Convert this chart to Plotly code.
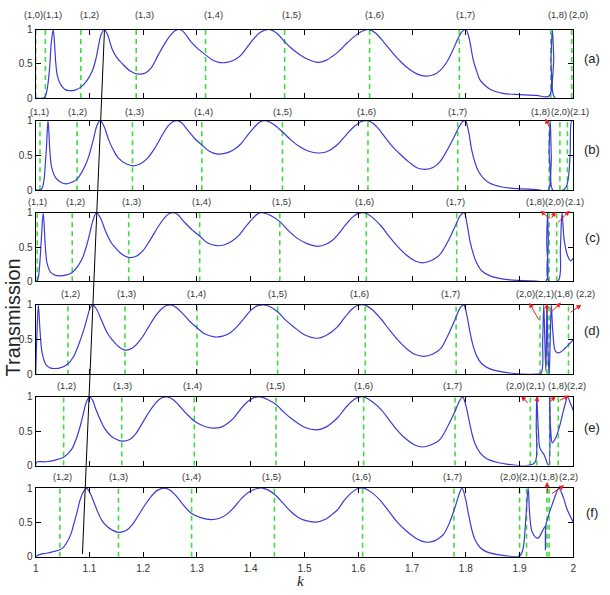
import plotly.graph_objects as go

# ---------------- data ----------------
k_a = [1.000, 1.014, 1.018, 1.022, 1.026, 1.029, 1.0326, 1.035, 1.0375, 1.0405, 1.045, 1.050, 1.056, 1.062, 1.068, 1.074, 1.084, 1.095, 1.105, 1.112, 1.117, 1.122, 1.128, 1.134, 1.142, 1.150, 1.160, 1.175, 1.191, 1.205, 1.215, 1.228, 1.242, 1.252, 1.260, 1.266, 1.273, 1.289, 1.303, 1.316, 1.328, 1.341, 1.355, 1.370, 1.381, 1.395, 1.405, 1.418, 1.433, 1.448, 1.461, 1.475, 1.492, 1.505, 1.525, 1.540, 1.552, 1.562, 1.580, 1.593, 1.606, 1.619, 1.632, 1.648, 1.665, 1.679, 1.695, 1.710, 1.725, 1.740, 1.752, 1.765, 1.776, 1.785, 1.793, 1.800, 1.806, 1.814, 1.820, 1.826, 1.835, 1.845, 1.869, 1.900, 1.931, 1.955, 1.9585, 1.961, 1.9635, 1.966, 2.000]
t_a = [0, 0, 0.03, 0.16, 0.45, 0.8, 1.0, 0.8, 0.5, 0.32, 0.22, 0.16, 0.12, 0.11, 0.11, 0.12, 0.16, 0.25, 0.39, 0.57, 0.77, 0.93, 1.0, 0.92, 0.72, 0.60, 0.51, 0.40, 0.35, 0.37, 0.44, 0.63, 0.82, 0.93, 0.985, 1.0, 0.98, 0.82, 0.71, 0.63, 0.56, 0.52, 0.52, 0.56, 0.62, 0.76, 0.86, 0.96, 1.0, 0.95, 0.84, 0.73, 0.63, 0.57, 0.52, 0.55, 0.61, 0.67, 0.81, 0.90, 0.97, 1.0, 0.95, 0.81, 0.65, 0.53, 0.42, 0.35, 0.32, 0.34, 0.40, 0.53, 0.70, 0.86, 0.97, 1.0, 0.88, 0.55, 0.40, 0.27, 0.19, 0.13, 0.07, 0.05, 0.04, 0.03, 0.6, 1.0, 0.6, 0.0, 0.0]

k_b = [1.000, 1.010, 1.013, 1.016, 1.018, 1.020, 1.023, 1.026, 1.028, 1.030, 1.037, 1.045, 1.056, 1.066, 1.077, 1.093, 1.100, 1.108, 1.114, 1.120, 1.127, 1.136, 1.145, 1.154, 1.168, 1.182, 1.195, 1.208, 1.222, 1.236, 1.246, 1.255, 1.263, 1.270, 1.283, 1.296, 1.309, 1.323, 1.338, 1.352, 1.366, 1.381, 1.395, 1.406, 1.417, 1.427, 1.440, 1.459, 1.475, 1.492, 1.508, 1.525, 1.540, 1.552, 1.562, 1.578, 1.593, 1.605, 1.616, 1.628, 1.642, 1.660, 1.679, 1.695, 1.710, 1.725, 1.740, 1.752, 1.765, 1.778, 1.788, 1.795, 1.799, 1.805, 1.811, 1.817, 1.823, 1.833, 1.845, 1.865, 1.882, 1.931, 1.953, 1.955, 1.957, 1.959, 1.962, 1.983, 1.989, 1.994, 1.997, 2.000]
t_b = [0, 0.01, 0.05, 0.18, 0.38, 0.61, 1.0, 0.61, 0.42, 0.32, 0.18, 0.12, 0.09, 0.11, 0.16, 0.37, 0.52, 0.75, 0.93, 1.0, 0.92, 0.72, 0.57, 0.46, 0.38, 0.35, 0.38, 0.46, 0.61, 0.80, 0.92, 0.985, 1.0, 0.98, 0.86, 0.74, 0.65, 0.56, 0.52, 0.53, 0.57, 0.66, 0.80, 0.90, 0.98, 1.0, 0.96, 0.84, 0.72, 0.62, 0.56, 0.535, 0.55, 0.60, 0.66, 0.80, 0.92, 0.985, 1.0, 0.96, 0.84, 0.66, 0.51, 0.40, 0.32, 0.30, 0.33, 0.41, 0.57, 0.76, 0.92, 0.99, 1.0, 0.85, 0.58, 0.40, 0.28, 0.17, 0.10, 0.05, 0.03, 0.01, 0.0, 0.6, 1.0, 0.5, 0.0, 0.01, 0.1, 0.5, 1.0, 1.0]

k_c = [1.000, 1.003, 1.005, 1.007, 1.009, 1.011, 1.014, 1.017, 1.019, 1.021, 1.028, 1.036, 1.044, 1.056, 1.068, 1.080, 1.087, 1.094, 1.100, 1.107, 1.113, 1.120, 1.130, 1.140, 1.148, 1.161, 1.174, 1.188, 1.200, 1.215, 1.228, 1.240, 1.248, 1.255, 1.263, 1.277, 1.291, 1.305, 1.320, 1.337, 1.350, 1.364, 1.378, 1.391, 1.403, 1.412, 1.421, 1.437, 1.454, 1.470, 1.486, 1.505, 1.525, 1.540, 1.552, 1.562, 1.577, 1.590, 1.600, 1.611, 1.625, 1.642, 1.658, 1.673, 1.690, 1.705, 1.719, 1.735, 1.746, 1.753, 1.766, 1.780, 1.790, 1.797, 1.802, 1.808, 1.814, 1.820, 1.830, 1.845, 1.882, 1.931, 1.949, 1.9505, 1.952, 1.9535, 1.955, 1.972, 1.976, 1.979, 1.983, 1.989, 1.995, 2.000]
t_c = [0, 0.01, 0.06, 0.2, 0.42, 0.68, 1.0, 0.63, 0.40, 0.27, 0.13, 0.09, 0.08, 0.09, 0.13, 0.24, 0.34, 0.50, 0.68, 0.90, 1.0, 0.93, 0.73, 0.57, 0.49, 0.39, 0.345, 0.37, 0.45, 0.63, 0.80, 0.93, 0.985, 1.0, 0.98, 0.86, 0.75, 0.66, 0.56, 0.52, 0.53, 0.58, 0.67, 0.80, 0.91, 0.98, 1.0, 0.96, 0.87, 0.74, 0.63, 0.55, 0.51, 0.54, 0.60, 0.68, 0.83, 0.94, 0.99, 1.0, 0.94, 0.81, 0.65, 0.51, 0.38, 0.30, 0.27, 0.30, 0.35, 0.40, 0.57, 0.80, 0.96, 1.0, 0.85, 0.58, 0.40, 0.27, 0.15, 0.08, 0.02, 0.005, 0.0, 0.6, 1.0, 0.6, 0.0, 0.01, 0.5, 1.0, 0.6, 0.38, 0.3, 0.34]

k_d = [1.000, 1.002, 1.005, 1.008, 1.012, 1.019, 1.028, 1.036, 1.044, 1.060, 1.070, 1.080, 1.089, 1.096, 1.101, 1.106, 1.113, 1.123, 1.133, 1.142, 1.154, 1.166, 1.180, 1.195, 1.209, 1.222, 1.234, 1.243, 1.251, 1.260, 1.274, 1.287, 1.300, 1.315, 1.332, 1.348, 1.362, 1.375, 1.388, 1.400, 1.412, 1.424, 1.437, 1.450, 1.465, 1.479, 1.500, 1.524, 1.540, 1.552, 1.562, 1.575, 1.587, 1.598, 1.611, 1.626, 1.642, 1.658, 1.673, 1.690, 1.705, 1.722, 1.738, 1.753, 1.766, 1.780, 1.789, 1.796, 1.802, 1.808, 1.814, 1.820, 1.830, 1.845, 1.882, 1.931, 1.940, 1.943, 1.945, 1.947, 1.949, 1.951, 1.953, 1.955, 1.957, 1.959, 1.962, 1.967, 1.973, 1.985, 2.000]
t_d = [0, 0.5, 1.0, 0.64, 0.31, 0.14, 0.09, 0.085, 0.09, 0.15, 0.25, 0.43, 0.63, 0.82, 0.95, 1.0, 0.94, 0.77, 0.60, 0.50, 0.40, 0.35, 0.38, 0.50, 0.67, 0.83, 0.94, 0.99, 1.0, 0.97, 0.87, 0.76, 0.67, 0.58, 0.54, 0.55, 0.60, 0.69, 0.81, 0.92, 0.985, 1.0, 0.97, 0.90, 0.78, 0.69, 0.57, 0.52, 0.56, 0.62, 0.69, 0.82, 0.93, 0.99, 1.0, 0.93, 0.80, 0.64, 0.50, 0.37, 0.29, 0.26, 0.29, 0.37, 0.55, 0.79, 0.95, 1.0, 0.85, 0.60, 0.40, 0.27, 0.15, 0.08, 0.02, 0.005, 0.02, 0.5, 1.0, 0.5, 0.05, 1.0, 0.3, 0.0, 0.5, 1.0, 0.6, 0.33, 0.31, 0.38, 0.5]

k_e = [1.000, 1.002, 1.019, 1.037, 1.052, 1.061, 1.068, 1.076, 1.083, 1.089, 1.094, 1.100, 1.106, 1.111, 1.120, 1.129, 1.140, 1.148, 1.161, 1.175, 1.186, 1.197, 1.210, 1.222, 1.233, 1.244, 1.254, 1.265, 1.280, 1.295, 1.311, 1.329, 1.345, 1.358, 1.369, 1.382, 1.394, 1.406, 1.418, 1.432, 1.447, 1.460, 1.473, 1.487, 1.501, 1.522, 1.540, 1.552, 1.562, 1.575, 1.587, 1.598, 1.610, 1.626, 1.642, 1.658, 1.673, 1.690, 1.705, 1.719, 1.735, 1.745, 1.753, 1.767, 1.780, 1.788, 1.794, 1.800, 1.805, 1.811, 1.817, 1.827, 1.839, 1.869, 1.918, 1.929, 1.931, 1.932, 1.935, 1.938, 1.946, 1.954, 1.956, 1.958, 1.961, 1.967, 1.974, 1.980, 1.986, 1.989, 1.995, 2.000]
t_e = [0, 0.05, 0.055, 0.08, 0.12, 0.18, 0.25, 0.40, 0.58, 0.77, 0.92, 1.0, 0.95, 0.84, 0.67, 0.53, 0.43, 0.39, 0.355, 0.38, 0.46, 0.60, 0.77, 0.90, 0.98, 1.0, 0.97, 0.89, 0.76, 0.65, 0.58, 0.545, 0.56, 0.62, 0.70, 0.83, 0.93, 0.99, 1.0, 0.96, 0.89, 0.79, 0.70, 0.62, 0.555, 0.52, 0.56, 0.63, 0.70, 0.83, 0.93, 0.99, 1.0, 0.93, 0.82, 0.66, 0.51, 0.38, 0.30, 0.27, 0.30, 0.34, 0.39, 0.58, 0.79, 0.94, 1.0, 0.88, 0.70, 0.48, 0.32, 0.18, 0.10, 0.03, 0.005, 0.05, 0.6, 1.0, 0.5, 0.25, 0.15, 0.0, 1.0, 0.5, 0.33, 0.40, 0.56, 0.75, 0.93, 1.0, 0.9, 0.8]

k_f = [1.000, 1.007, 1.020, 1.031, 1.045, 1.052, 1.059, 1.066, 1.071, 1.077, 1.082, 1.087, 1.094, 1.099, 1.105, 1.114, 1.123, 1.133, 1.142, 1.154, 1.168, 1.180, 1.191, 1.203, 1.215, 1.227, 1.240, 1.250, 1.262, 1.276, 1.290, 1.307, 1.326, 1.342, 1.356, 1.369, 1.383, 1.396, 1.410, 1.422, 1.433, 1.444, 1.458, 1.473, 1.487, 1.501, 1.521, 1.540, 1.552, 1.562, 1.575, 1.587, 1.598, 1.610, 1.626, 1.642, 1.658, 1.673, 1.690, 1.705, 1.717, 1.728, 1.742, 1.752, 1.759, 1.770, 1.780, 1.788, 1.793, 1.799, 1.805, 1.811, 1.817, 1.827, 1.839, 1.869, 1.900, 1.906, 1.912, 1.916, 1.919, 1.924, 1.934, 1.943, 1.9475, 1.948, 1.9485, 1.950, 1.958, 1.967, 1.973, 1.982, 1.988, 2.000]
t_f = [0, 0.03, 0.05, 0.07, 0.10, 0.14, 0.22, 0.34, 0.48, 0.65, 0.81, 0.92, 1.0, 0.96, 0.86, 0.68, 0.53, 0.44, 0.39, 0.354, 0.38, 0.47, 0.60, 0.75, 0.88, 0.97, 1.0, 0.97, 0.88, 0.74, 0.63, 0.57, 0.54, 0.56, 0.62, 0.72, 0.85, 0.94, 0.99, 1.0, 0.97, 0.91, 0.80, 0.67, 0.58, 0.53, 0.505, 0.55, 0.62, 0.69, 0.83, 0.93, 0.99, 1.0, 0.93, 0.81, 0.65, 0.50, 0.37, 0.28, 0.23, 0.21, 0.23, 0.28, 0.33, 0.50, 0.72, 0.92, 1.0, 0.86, 0.62, 0.40, 0.25, 0.13, 0.07, 0.02, 0.01, 0.1, 0.6, 1.0, 0.6, 0.35, 0.27, 0.38, 0.44, 0.1, 0.44, 0.5, 0.7, 0.9, 1.0, 0.85, 0.7, 0.5]

# mode positions (green dashed lines)
green_a = [1.000, 1.018, 1.084, 1.187, 1.316, 1.463, 1.621, 1.788, 1.958, 1.997]
green_b = [1.008, 1.077, 1.180, 1.309, 1.459, 1.618, 1.785, 1.955, 1.975, 1.989]
green_c = [1.003, 1.068, 1.173, 1.305, 1.454, 1.615, 1.783, 1.955, 1.969]
green_d = [1.060, 1.166, 1.300, 1.450, 1.613, 1.782, 1.938, 1.951, 1.955, 1.991]
green_e = [1.052, 1.160, 1.295, 1.447, 1.610, 1.780, 1.920, 1.932, 1.956, 1.972]
green_f = [1.045, 1.154, 1.290, 1.444, 1.608, 1.778, 1.900, 1.913, 1.951, 1.955]

# mode labels and their k positions
lab_a = ['(1,0)', '(1,1)', '(1,2)', '(1,3)', '(1,4)', '(1,5)', '(1,6)', '(1,7)', '(1,8)', '(2,0)']
labk_a = [0.9954, 1.0317, 1.101, 1.202, 1.331, 1.476, 1.630, 1.799, 1.970, 2.010]
lab_b = ['(1,1)', '(1,2)', '(1,3)', '(1,4)', '(1,5)', '(1,6)', '(1,7)', '(1,8)', '(2,0)', '(2.1)']
labk_b = [1.007, 1.077, 1.183, 1.313, 1.460, 1.615, 1.785, 1.9383, 1.9766, 2.0110]
lab_c = ['(1,1)', '(1,2)', '(1,3)', '(1,4)', '(1,5)', '(1,6)', '(1,7)', '(1,8)', '(2,0)', '(2.1)']
labk_c = [1.004, 1.074, 1.179, 1.308, 1.458, 1.611, 1.780, 1.9291, 1.9650, 2.0013]
lab_d = ['(1,2)', '(1,3)', '(1,4)', '(1,5)', '(1,6)', '(1,7)', '(2,0)', '(2,1)', '(1,8)', '(2,2)']
labk_d = [1.065, 1.169, 1.300, 1.449, 1.603, 1.771, 1.9107, 1.9470, 1.9821, 2.0234]
lab_e = ['(1,2)', '(1,3)', '(1,4)', '(1,5)', '(1,6)', '(1,7)', '(2,0)', '(2,1)', '(1,8)', '(2,2)']
labk_e = [1.058, 1.162, 1.291, 1.446, 1.610, 1.775, 1.8932, 1.9291, 1.9711, 2.0064]
lab_f = ['(1,2)', '(1,3)', '(1,4)', '(1,5)', '(1,6)', '(1,7)', '(2,0)', '(2,1)', '(1,8)', '(2,2)']
labk_f = [1.050, 1.154, 1.289, 1.438, 1.606, 1.775, 1.8812, 1.9175, 1.9536, 1.9902]

# red arrows: (tail k, tail T, head k, head T)
arrows_a = []
arrows_b = [(1.956, 0.90, 1.948, 1.03)]
arrows_c = [(1.958, 0.90, 1.939, 1.03), (1.958, 0.90, 1.967, 1.02), (1.969, 0.84, 1.993, 1.03)]
arrows_d = [(1.937, 0.77, 1.918, 1.03), (1.950, 0.84, 1.951, 1.02), (1.956, 0.88, 1.977, 1.03), (1.992, 0.88, 2.015, 1.00)]
arrows_e = [(1.918, 0.89, 1.903, 1.01), (1.932, 0.94, 1.934, 1.01), (1.954, 0.91, 1.967, 1.01), (1.972, 0.94, 1.992, 1.02)]
arrows_f = [(1.952, 0.91, 1.951, 1.09), (1.958, 0.91, 1.983, 1.04)]

panel_names = ['(a)', '(b)', '(c)', '(d)', '(e)', '(f)']
x_ticks = [1.0, 1.1, 1.2, 1.3, 1.4, 1.5, 1.6, 1.7, 1.8, 1.9, 2.0]
x_ticktext = ['1', '1.1', '1.2', '1.3', '1.4', '1.5', '1.6', '1.7', '1.8', '1.9', '2']
y_ticks = [0, 0.5, 1]
y_ticktext = ['0', '0.5', '1']
slant_line = [(1.128, 1.0), (1.087, 0.04)]  # from peak in (a) down to bottom of (f)

# ---------------- layout constants ----------------
W, H = 610, 595
X0, X1 = 33, 576
panels_px = [(24, 94), (117, 188), (211, 281), (305, 376), (399, 469), (492, 562)]
label_px = [9.5, 108.5, 200, 294, 387.5, 480.5]
name_px = [53.5, 146, 236, 331, 430, 517]

BLUE = '#3b3bd6'
GREEN = '#3fdc3f'
RED = '#ee1c1c'
FONT = 'Liberation Sans, Arial, sans-serif'


def k_to_px(k):
    return X0 + (k - 1.0) * (X1 - X0)


def t_to_py(i, t):
    top, bot = panels_px[i]
    return bot - t * (bot - top)


panels = [
    (k_a, t_a, green_a, lab_a, labk_a, arrows_a),
    (k_b, t_b, green_b, lab_b, labk_b, arrows_b),
    (k_c, t_c, green_c, lab_c, labk_c, arrows_c),
    (k_d, t_d, green_d, lab_d, labk_d, arrows_d),
    (k_e, t_e, green_e, lab_e, labk_e, arrows_e),
    (k_f, t_f, green_f, lab_f, labk_f, arrows_f),
]

fig = go.Figure()
annotations = []
layout_axes = {}
for i, (ks, ts, gks, labs, labks, arrs) in enumerate(panels):
    suf = '' if i == 0 else str(i + 1)
    xa, ya = 'x' + suf, 'y' + suf
    gx, gy = [], []
    for g in gks:
        gx += [g, g, None]
        gy += [0, 1, None]
    fig.add_trace(go.Scatter(x=gx, y=gy, mode='lines', xaxis=xa, yaxis=ya,
                             line=dict(color=GREEN, width=1.6, dash='5px,4px'),
                             hoverinfo='skip', showlegend=False))
    fig.add_trace(go.Scatter(x=ks, y=ts, mode='lines', xaxis=xa, yaxis=ya,
                             line=dict(color=BLUE, width=1.2, shape='spline', smoothing=1.0),
                             showlegend=False))
    top, bot = panels_px[i]
    layout_axes['xaxis' + suf] = dict(
        domain=[X0 / W, X1 / W], range=[1, 2], anchor=ya,
        tickvals=x_ticks, ticktext=x_ticktext, showticklabels=(i == 5),
        ticks='inside', ticklen=5, tickcolor='black', showline=True, linecolor='black',
        linewidth=1, mirror='allticks', showgrid=False, zeroline=False,
        ticklabelstandoff=2,
        tickfont=dict(size=10, color='#333', family=FONT))
    layout_axes['yaxis' + suf] = dict(
        domain=[1 - bot / H, 1 - top / H], range=[0, 1], anchor=xa,
        tickvals=y_ticks, ticktext=y_ticktext,
        ticks='inside', ticklen=5, tickcolor='black', showline=True, linecolor='black',
        linewidth=1, mirror='allticks', showgrid=False, zeroline=False,
        tickfont=dict(size=10, color='#333', family=FONT))
    for lab, lk in zip(labs, labks):
        annotations.append(dict(x=k_to_px(lk) / W, y=1 - label_px[i] / H, xref='paper', yref='paper',
                                text=lab, showarrow=False, xanchor='center', yanchor='middle',
                                font=dict(size=9.3, color='#333', family=FONT)))
    for (tk, tt, hk, ht) in arrs:
        hx, hy = k_to_px(hk), t_to_py(i, ht)
        tx, ty = k_to_px(tk), t_to_py(i, tt)
        annotations.append(dict(x=hx / W, y=1 - hy / H, xref='paper', yref='paper',
                                axref='pixel', ayref='pixel', ax=tx - hx, ay=ty - hy,
                                text='', showarrow=True, arrowhead=2, arrowsize=1,
                                arrowwidth=1, arrowcolor=RED))
    annotations.append(dict(x=595 / W, y=1 - name_px[i] / H, xref='paper', yref='paper',
                            text=panel_names[i], showarrow=False, xanchor='center', yanchor='middle',
                            font=dict(size=13, color='#222', family=FONT)))

annotations.append(dict(x=10 / W, y=1 - 318 / H, xref='paper', yref='paper', text='Transmission',
                        textangle=-90, showarrow=False, xanchor='center', yanchor='middle',
                        font=dict(size=20, color='#222', family=FONT)))
annotations.append(dict(x=300 / W, y=1 - 587 / H, xref='paper', yref='paper', text='<i>k</i>',
                        showarrow=False, xanchor='center', yanchor='middle',
                        font=dict(size=15, color='#222', family='Liberation Serif, serif')))

shapes = [dict(type='line', xref='x', yref='paper',
               x0=slant_line[0][0], y0=1 - t_to_py(0, slant_line[0][1]) / H,
               x1=slant_line[1][0], y1=1 - t_to_py(5, slant_line[1][1]) / H,
               line=dict(color='black', width=1), layer='above')]

fig.update_layout(width=W, height=H, margin=dict(l=0, r=0, t=0, b=0),
                  paper_bgcolor='white', plot_bgcolor='white',
                  annotations=annotations, shapes=shapes, showlegend=False,
                  font=dict(family=FONT), **layout_axes)
fig.write_html('out.html')
